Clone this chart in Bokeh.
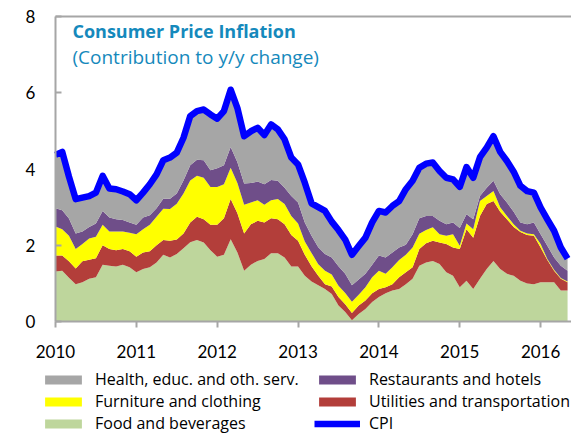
from bokeh.plotting import figure
from bokeh.models import (Legend, LegendItem, Label, FixedTicker, ColumnDataSource,
                          Range1d, LinearAxis)
from bokeh.embed import file_html
from bokeh.resources import INLINE

# Monthly, Jan 2010 .. May 2016 (contribution to y/y change, pp)
month_index = list(range(77))

food = [1.31,1.33,1.15,0.98,1.03,1.12,1.16,1.49,1.46,1.44,1.49,1.42,
        1.29,1.38,1.42,1.55,1.75,1.68,1.77,1.92,2.08,2.14,2.07,1.87,
        1.70,1.75,2.16,1.81,1.33,1.49,1.59,1.64,1.79,1.79,1.68,1.44,
        1.44,1.20,1.05,0.95,0.85,0.72,0.42,0.25,0.03,0.20,0.33,0.51,
        0.64,0.74,0.81,0.85,0.98,1.12,1.46,1.55,1.59,1.51,1.29,1.20,
        0.90,1.07,0.85,1.12,1.38,1.59,1.38,1.25,1.20,1.07,1.00,0.98,
        1.03,1.03,1.03,0.81,0.81]

util = [0.42,0.40,0.43,0.41,0.55,0.50,0.50,0.51,0.44,0.43,0.41,0.42,
        0.41,0.43,0.42,0.45,0.39,0.44,0.38,0.39,0.52,0.61,0.61,0.67,
        0.84,0.96,1.05,1.03,0.98,1.06,1.05,0.96,0.92,0.89,0.87,0.83,
        0.68,0.55,0.40,0.25,0.13,0.20,0.22,0.20,0.19,0.22,0.22,0.23,
        0.21,0.16,0.17,0.31,0.31,0.30,0.44,0.50,0.53,0.56,0.74,0.74,
        1.00,1.35,1.35,1.65,1.70,1.57,1.50,1.43,1.28,1.28,1.27,1.27,
        0.91,0.58,0.30,0.31,0.22]

furn = [0.76,0.69,0.67,0.51,0.45,0.56,0.56,0.54,0.46,0.49,0.46,0.49,
        0.59,0.61,0.70,0.75,0.82,0.83,0.94,1.05,1.10,1.07,1.09,0.99,
        0.99,0.89,0.82,0.79,0.75,0.57,0.54,0.46,0.47,0.53,0.53,0.50,
        0.45,0.35,0.35,0.30,0.35,0.31,0.30,0.30,0.30,0.28,0.35,0.42,
        0.48,0.35,0.44,0.45,0.46,0.52,0.40,0.35,0.35,0.22,0.22,0.35,
        0.09,0.15,0.22,0.39,0.21,0.26,0.12,0.09,0.07,0.03,0.04,0.04,
        0.09,0.03,0.03,0.02,0.02]

rest = [0.48,0.50,0.45,0.41,0.33,0.30,0.35,0.36,0.37,0.32,0.30,0.27,
        0.25,0.31,0.25,0.22,0.26,0.27,0.27,0.34,0.40,0.42,0.46,0.44,
        0.49,0.50,0.55,0.55,0.56,0.51,0.49,0.54,0.53,0.48,0.43,0.52,
        0.55,0.50,0.45,0.45,0.44,0.45,0.51,0.50,0.43,0.40,0.35,0.33,
        0.40,0.43,0.39,0.33,0.26,0.35,0.41,0.37,0.30,0.35,0.30,0.31,
        0.46,0.24,0.26,0.13,0.22,0.27,0.34,0.35,0.33,0.22,0.24,0.31,
        0.26,0.35,0.32,0.32,0.28]

health = [1.40,1.53,1.10,0.90,0.89,0.81,0.81,0.92,0.76,0.79,0.75,0.74,
          0.64,0.65,0.81,0.89,1.01,1.08,1.07,1.12,1.29,1.28,1.33,1.46,
          1.30,1.42,1.50,1.42,1.24,1.36,1.41,1.29,1.46,1.35,1.27,1.01,
          1.00,1.04,0.85,1.05,1.13,0.94,0.95,0.90,0.80,0.88,0.95,1.11,
          1.17,1.18,1.22,1.22,1.46,1.40,1.32,1.37,1.40,1.31,1.22,1.13,
          1.08,1.24,1.09,1.02,1.05,1.17,1.11,1.09,1.05,0.96,0.87,0.78,
          0.70,0.69,0.70,0.48,0.32]

cpi = [4.37,4.45,3.80,3.21,3.25,3.29,3.38,3.82,3.49,3.47,3.41,3.34,
       3.18,3.38,3.60,3.86,4.23,4.30,4.43,4.82,5.39,5.52,5.56,5.43,
       5.32,5.52,6.08,5.60,4.86,4.99,5.08,4.89,5.17,5.04,4.78,4.30,
       4.12,3.64,3.10,3.00,2.90,2.62,2.40,2.15,1.75,1.98,2.20,2.60,
       2.90,2.86,3.03,3.16,3.47,3.69,4.03,4.14,4.17,3.95,3.77,3.73,
       3.53,4.05,3.77,4.31,4.56,4.86,4.45,4.21,3.93,3.56,3.42,3.38,
       2.99,2.68,2.38,1.94,1.65]

year_ticks = [2010, 2011, 2012, 2013, 2014, 2015, 2016]
y_ticks = [0, 2, 4, 6, 8]

labels = {
    "food": "Food and beverages",
    "util": "Utilities and transportation",
    "furn": "Furniture and clothing",
    "rest": "Restaurants and hotels",
    "health": "Health, educ. and oth. serv.",
    "cpi": "CPI",
}
colors = {
    "food": "#BED69C",
    "util": "#B33E3A",
    "furn": "#FFFF00",
    "rest": "#6F4E89",
    "health": "#A6A6A6",
    "cpi": "#0000FF",
}

x = [2010 + m / 12 for m in month_index]
src = ColumnDataSource(dict(x=x, food=food, util=util, furn=furn, rest=rest,
                            health=health, cpi=cpi))

FONT = "Lato"
FONT2 = "Open Sans"
GRAY = "#A6A6A6"
X0, X1 = 2010, 2016.382

p = figure(width=571, height=434, output_backend="svg", toolbar_location=None,
           x_range=Range1d(2009.32, X1), y_range=Range1d(-2.964, 8.42),
           min_border_left=0, min_border_right=0, min_border_top=0,
           min_border_bottom=0)
p.outline_line_color = None
p.xgrid.visible = False
p.ygrid.visible = False
p.background_fill_color = "white"
p.border_fill_color = "white"

order = ["food", "util", "furn", "rest", "health"]
rends = p.varea_stack(stackers=order, x="x", source=src,
                      color=[colors[k] for k in order])
r = dict(zip(order, rends))
r["cpi"] = p.line("x", "cpi", source=src, line_color=colors["cpi"], line_width=6.5,
                  line_join="round")

# axes (fixed inside the frame so that the legend can sit below them)
xa = p.xaxis[0]
ya = p.yaxis[0]
xa.fixed_location = 0
xa.bounds = (X0, X1)
ya.fixed_location = X0
ya.bounds = (0, 8)
for ax in (xa, ya):
    ax.axis_line_color = GRAY
    ax.axis_line_width = 2
    ax.major_tick_line_color = GRAY
    ax.major_tick_line_width = 2
    ax.minor_tick_line_color = None
    ax.major_label_text_font = FONT
    ax.major_label_text_font_size = "17px"
    ax.major_label_text_color = "#000000"

xa.ticker = FixedTicker(ticks=year_ticks)
xa.major_tick_in = 0
xa.major_tick_out = 6
xa.major_label_standoff = 17
ya.ticker = FixedTicker(ticks=y_ticks)
ya.major_tick_in = 6
ya.major_tick_out = 0
ya.major_label_standoff = 20

top = LinearAxis(fixed_location=8, bounds=(X0, X1), ticker=FixedTicker(ticks=[]),
                 axis_line_color=GRAY, axis_line_width=2,
                 major_tick_line_color=None, minor_tick_line_color=None,
                 major_label_text_font_size="0px")
p.add_layout(top, "above")

TITLE_COLOR = "#1589BC"
p.add_layout(Label(x=2010.21, y=7.61, text="Consumer Price Inflation",
                   text_font=FONT2, text_font_size="18px", text_font_style="bold",
                   text_color=TITLE_COLOR, text_baseline="alphabetic"))
p.add_layout(Label(x=2010.21, y=6.95, text="(Contribution to y/y change)",
                   text_font=FONT2, text_font_size="19px",
                   text_color=TITLE_COLOR, text_baseline="alphabetic"))

def make_legend(keys, loc):
    leg = Legend(items=[LegendItem(label=labels[k], renderers=[r[k]]) for k in keys],
                 location=loc, orientation="vertical")
    leg.label_text_font = FONT2
    leg.label_text_font_size = "16px"
    leg.label_text_color = "#000000"
    leg.glyph_width = 46
    leg.glyph_height = 11
    leg.label_standoff = 9
    leg.spacing = 0
    leg.padding = 0
    leg.margin = 0
    leg.label_height = 22
    leg.border_line_color = None
    leg.background_fill_alpha = 0
    return leg

p.add_layout(make_legend(["health", "furn", "food"], (40, 0)))
p.add_layout(make_legend(["rest", "util", "cpi"], (314, 0)))

open("out.html", "w").write(file_html(p, INLINE))
